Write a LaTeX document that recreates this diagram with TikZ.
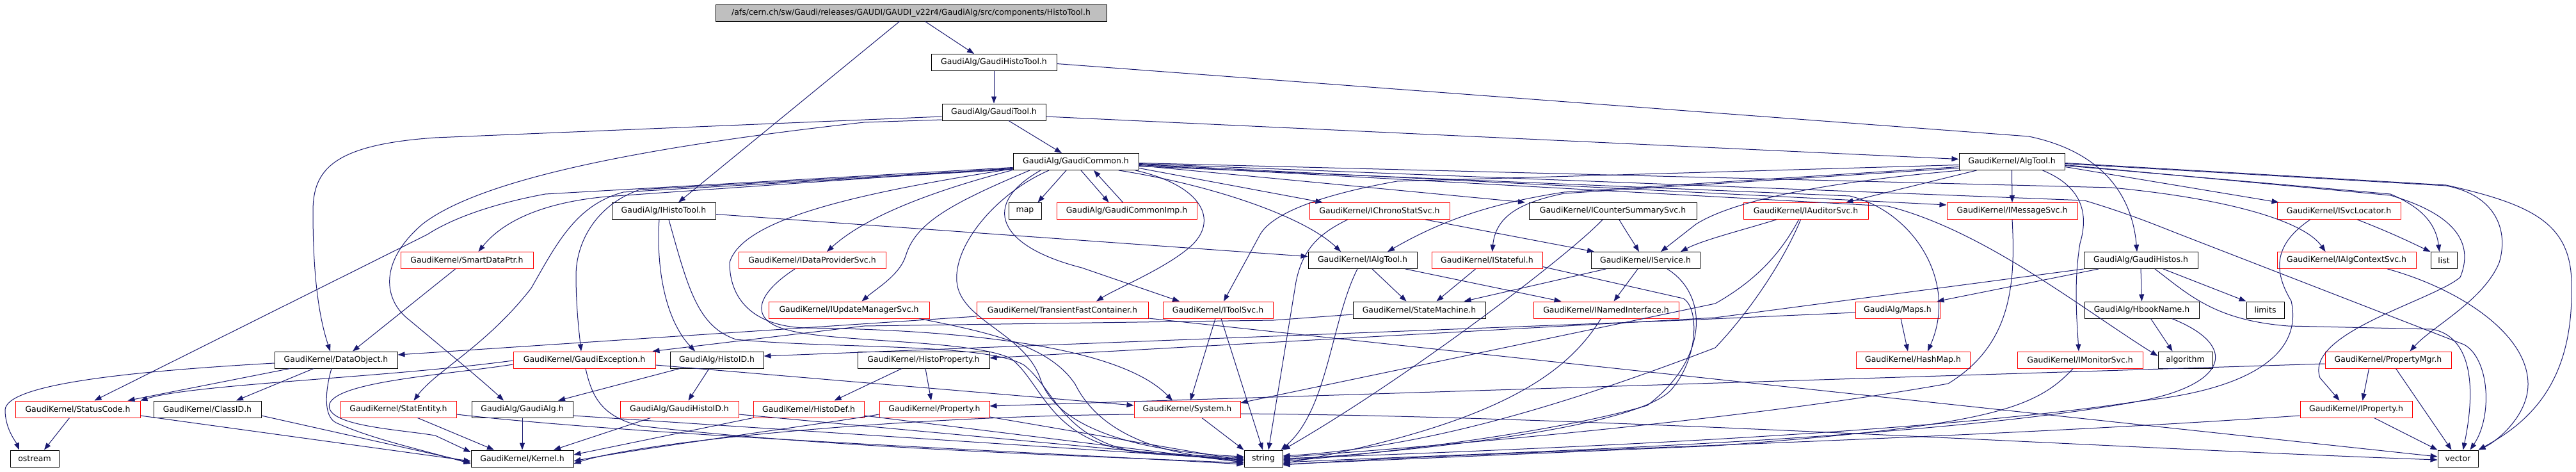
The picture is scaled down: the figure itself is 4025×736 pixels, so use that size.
\documentclass[tikz,border=0pt]{standalone}
\usepackage{fontspec}
\setmainfont{DejaVu Sans}
\usetikzlibrary{arrows.meta}
\definecolor{navy}{HTML}{191970}
\definecolor{rootgray}{HTML}{BFBFBF}
\begin{document}
\begin{tikzpicture}[x=1pt,y=-1pt,
  nd/.style={draw=black, line width=1pt, minimum height=26pt, inner sep=0pt, font=\fontsize{12.5}{14}\selectfont},
  rd/.style={nd, draw=red},
  e/.style={navy, line width=1pt, -{Triangle[length=11pt,width=8pt]}}]
\useasboundingbox[fill=white] (0,0) rectangle (4025,736);
% ---------------- nodes ----------------
\node[nd, fill=rootgray, minimum width=611pt] (root) at (1423.5,20) {/afs/cern.ch/sw/Gaudi/releases/GAUDI/GAUDI\_v22r4/GaudiAlg/src/components/HistoTool.h};
\node[nd, minimum width=196pt] (ght) at (1553,97.5) {GaudiAlg/GaudiHistoTool.h};
\node[nd, minimum width=162pt] (gt) at (1553,175) {GaudiAlg/GaudiTool.h};
\node[nd, minimum width=196pt] (gc) at (1681,252.5) {GaudiAlg/GaudiCommon.h};
\node[nd, minimum width=165pt] (at) at (3143.5,252.5) {GaudiKernel/AlgTool.h};
% row 4
\node[nd, minimum width=162pt] (iht) at (1037,329.5) {GaudiAlg/IHistoTool.h};
\node[nd, minimum width=51pt] (map) at (1601.5,329.5) {map};
\node[rd, minimum width=219pt] (gci) at (1760.5,329.5) {GaudiAlg/GaudiCommonImp.h};
\node[rd, minimum width=219pt] (ics) at (2155.5,329.5) {GaudiKernel/IChronoStatSvc.h};
\node[nd, minimum width=262pt] (icss) at (2520,329.5) {GaudiKernel/ICounterSummarySvc.h};
\node[rd, minimum width=195pt] (ias) at (2821.5,329.5) {GaudiKernel/IAuditorSvc.h};
\node[rd, minimum width=204pt] (ims) at (3144,329.5) {GaudiKernel/IMessageSvc.h};
\node[rd, minimum width=193pt] (isl) at (3654.5,329.5) {GaudiKernel/ISvcLocator.h};
% row 5
\node[rd, minimum width=207pt] (sdp) at (729.5,406.5) {GaudiKernel/SmartDataPtr.h};
\node[rd, minimum width=230pt] (idps) at (1269,406.5) {GaudiKernel/IDataProviderSvc.h};
\node[nd, minimum width=170pt] (iat) at (2129,406.5) {GaudiKernel/IAlgTool.h};
\node[rd, minimum width=173pt] (ist) at (2323.5,406.5) {GaudiKernel/IStateful.h};
\node[nd, minimum width=170pt] (isv) at (2571,406.5) {GaudiKernel/IService.h};
\node[nd, minimum width=178pt] (gh) at (3345,406.5) {GaudiAlg/GaudiHistos.h};
\node[rd, minimum width=217pt] (iacs) at (3666.5,406.5) {GaudiKernel/IAlgContextSvc.h};
\node[nd, minimum width=41pt] (list) at (3818.5,406.5) {list};
% row 6
\node[rd, minimum width=251pt] (iums) at (1326.5,484) {GaudiKernel/IUpdateManagerSvc.h};
\node[rd, minimum width=268pt] (tfc) at (1660,484) {GaudiKernel/TransientFastContainer.h};
\node[rd, minimum width=172pt] (itsv) at (1903,484) {GaudiKernel/IToolSvc.h};
\node[nd, minimum width=207pt] (sm) at (2217.5,484) {GaudiKernel/StateMachine.h};
\node[rd, minimum width=227pt] (ini) at (2509.5,484) {GaudiKernel/INamedInterface.h};
\node[rd, minimum width=132pt] (maps) at (2965,484) {GaudiAlg/Maps.h};
\node[nd, minimum width=179pt] (hbn) at (3346.5,484) {GaudiAlg/HbookName.h};
\node[nd, minimum width=59pt] (limits) at (3539.5,484) {limits};
% row 7
\node[nd, minimum width=192pt] (dobj) at (525,562) {GaudiKernel/DataObject.h};
\node[rd, minimum width=222pt] (gex) at (913,562) {GaudiKernel/GaudiException.h};
\node[nd, minimum width=146pt] (hid) at (1120,562) {GaudiAlg/HistoID.h};
\node[nd, minimum width=206pt] (hprop) at (1443,562) {GaudiKernel/HistoProperty.h};
\node[rd, minimum width=178pt] (hmap) at (2989,562) {GaudiKernel/HashMap.h};
\node[rd, minimum width=196pt] (imon) at (3250,562) {GaudiKernel/IMonitorSvc.h};
\node[nd, minimum width=85pt] (algo) at (3414.5,562) {algorithm};
\node[rd, minimum width=197pt] (pmgr) at (3731.5,562) {GaudiKernel/PropertyMgr.h};
% row 8
\node[rd, minimum width=195pt] (sc) at (121.5,639) {GaudiKernel/StatusCode.h};
\node[nd, minimum width=168pt] (cid) at (324,639) {GaudiKernel/ClassID.h};
\node[rd, minimum width=181pt] (sent) at (622.5,639) {GaudiKernel/StatEntity.h};
\node[nd, minimum width=158pt] (galg) at (816,639) {GaudiAlg/GaudiAlg.h};
\node[rd, minimum width=185pt] (ghid) at (1061.5,639) {GaudiAlg/GaudiHistoID.h};
\node[rd, minimum width=173pt] (hdef) at (1263.5,639) {GaudiKernel/HistoDef.h};
\node[rd, minimum width=172pt] (prop) at (1460,639) {GaudiKernel/Property.h};
\node[rd, minimum width=166pt] (sys) at (1855,639) {GaudiKernel/System.h};
\node[rd, minimum width=175pt] (iprop) at (3681.5,639) {GaudiKernel/IProperty.h};
% row 9
\node[nd, minimum width=76pt] (ostream) at (54,716) {ostream};
\node[nd, minimum width=160pt] (kern) at (816,716) {GaudiKernel/Kernel.h};
\node[nd, minimum width=60pt] (string) at (1974,716) {string};
\node[nd, minimum width=63pt] (vector) at (3840.5,716) {vector};
% ---------------- edges ----------------
\draw[e] ([xshift=22pt]root.south) -- ([xshift=-31pt]ght.north);
\draw[e] ([xshift=-18pt]root.south) -- ([xshift=23pt]iht.north);
\draw[e] (ght) -- (gt);
\draw[e] ([yshift=-2pt]ght.east) -- (3170,213) .. controls (3290,238) and (3332,310) .. ([xshift=-6pt]gh.north);
\draw[e] ([xshift=23pt]gt.south) -- ([xshift=-22pt]gc.north);
\draw[e] ([yshift=-7pt]gt.east) -- ([yshift=4pt]at.west);
\draw[e] ([yshift=-7pt]gt.west) -- (680,215) .. controls (520,226) and (489,265) .. (489,330) .. controls (489,440) and (500,500) .. ([xshift=-9pt]dobj.north);
\draw[e] ([yshift=-12pt]gt.west) -- (1350,191) .. controls (1000,230) and (750,280) .. (660,350) .. controls (590,410) and (600,470) .. (640,500) .. controls (700,550) and (760,600) .. ([xshift=-29pt]galg.north);
% GaudiCommon
\draw[e] ([xshift=8pt]gc.south) -- ([xshift=-28pt]gci.north);
\draw[e] ([xshift=-6pt]gci.north) -- ([xshift=28pt]gc.south);
\draw[e] ([xshift=-15pt]gc.south) -- ([xshift=20pt]map.north);
\draw[e] ([yshift=-10pt]gc.east) -- ([xshift=-89pt]ics.north);
\draw[e] ([yshift=-6pt]gc.east) -- ([xshift=-137pt]icss.north);
\draw[e] ([yshift=-4pt]gc.east) -- ([yshift=-4pt]ims.north west);
\draw[e] ([yshift=-2pt]gc.east) -- (3300,293) .. controls (3480,310) and (3600,345) .. ([xshift=-33pt]iacs.north);
\draw[e] ([yshift=-3pt]gc.east) -- (3257,313) .. controls (3330,335) and (3370,352) .. (3406,366) -- (3850,538) .. controls (3890,560) and (3895,650) .. ([xshift=19pt]vector.north);
\draw[e] ([yshift=-5pt]gc.east) -- (2950,322) .. controls (3100,360) and (3250,480) .. ([yshift=6pt]algo.west);
\draw[e] ([yshift=-7pt]gc.east) -- (2890,306) .. controls (2990,330) and (3060,440) .. ([xshift=23pt]hmap.north);
\draw[e] ([xshift=67pt]gc.south) .. controls (1900,290) and (2040,340) .. ([xshift=-34pt]iat.north);
\draw[e] ([xshift=-55pt]gc.south) .. controls (1530,320) and (1560,385) .. (1690,418) -- ([xshift=-60pt]itsv.north);
\draw[e] ([xshift=93pt]gc.south) .. controls (1880,290) and (1905,345) .. (1860,385) .. controls (1820,420) and (1745,450) .. ([xshift=53pt]tfc.north);
\draw[e] ([yshift=-12pt]gc.west) -- (974,300) .. controls (900,320) and (870,380) .. (830,450) .. controls (760,540) and (680,580) .. ([xshift=24pt]sent.north);
\draw[e] ([yshift=-10pt]gc.west) -- (948,307) .. controls (860,315) and (790,340) .. ([xshift=18pt]sdp.north);
\draw[e] ([yshift=-11pt]gc.west) -- (1000,296) .. controls (930,320) and (900,380) .. (900,430) .. controls (900,480) and (905,520) .. ([xshift=-5pt]gex.north);
\draw[e] ([yshift=-9pt]gc.west) -- (852,303) .. controls (760,320) and (700,345) .. (668,366) -- ([xshift=26pt]sc.north);
\draw[e] ([yshift=-13pt]gc.west) .. controls (1450,300) and (1350,340) .. ([xshift=23pt]idps.north);
\draw[e] ([yshift=-11pt]gc.west) .. controls (1350,300) and (1160,340) .. (1140,410) .. controls (1140,470) and (1180,510) .. (1260,512) .. controls (1500,515) and (1750,540) .. ([xshift=-23pt]sys.north);
\draw[e] ([xshift=-72pt]gc.south) .. controls (1480,320) and (1430,350) .. (1415,400) .. controls (1405,430) and (1370,450) .. ([xshift=20pt]iums.north);
\draw[e] ([xshift=-42pt]gc.south) .. controls (1560,300) and (1490,380) .. (1495,440) .. controls (1500,500) and (1600,520) .. (1625,590) .. controls (1650,670) and (1780,705) .. ([yshift=3pt]string.west);
% AlgTool
\draw[e] ([yshift=-5pt]at.west) -- (2183,283) .. controls (2075,302) and (1990,330) .. (1969,366) -- ([xshift=9pt]itsv.north);
\draw[e] ([yshift=-10pt]at.west) -- (2444,302) .. controls (2370,317) and (2337,340) .. ([xshift=8pt]ist.north);
\draw[e] ([yshift=-8pt]at.west) -- (2444,300) .. controls (2340,316) and (2260,340) .. ([xshift=39pt]iat.north);
\draw[e] ([xshift=-80pt]at.south) .. controls (2788,290) and (2690,325) .. (2650,350) -- ([xshift=24pt]isv.north);
\draw[e] ([xshift=-55pt]at.south) -- ([xshift=63pt]ias.north);
\draw[e] (at.south) -- (ims.north);
\draw[e] ([xshift=48pt]at.south) .. controls (3250,290) and (3265,330) .. (3250,380) .. controls (3240,440) and (3245,500) .. ([xshift=-2pt]imon.north);
\draw[e] ([yshift=-8pt]at.east) -- ([xshift=3pt]isl.north west);
\draw[e] ([yshift=-6pt]at.east) -- (3735,303) .. controls (3770,318) and (3805,340) .. ([xshift=-7pt]list.north);
\draw[e] ([yshift=-5pt]at.east) -- (3735,305) .. controls (3820,330) and (3870,370) .. (3844,433) .. controls (3800,470) and (3600,520) .. (3625,590) -- ([xshift=-26pt]iprop.north);
\draw[e] ([yshift=-3pt]at.east) -- (3822,290) .. controls (3900,305) and (3920,360) .. (3905,410) .. controls (3880,470) and (3800,510) .. ([xshift=34pt]pmgr.north);
\draw[e] ([yshift=-2pt]at.east) -- (3822,289) .. controls (3960,320) and (4020,350) .. (4018,450) .. controls (4020,600) and (3950,660) .. (vector.north east);
% row 4 sources
\draw[e] ([yshift=-5pt]iht.east) -- ([yshift=6pt]iat.west);
\draw[e] ([xshift=-7pt]iht.south) .. controls (1025,420) and (1040,500) .. ([xshift=-34pt]hid.north);
\draw[e] ([xshift=8pt]iht.south) .. controls (1075,450) and (1090,510) .. (1150,530) .. controls (1300,545) and (1540,535) .. (1600,570) .. controls (1650,610) and (1660,690) .. (1790,708) -- ([yshift=-1pt]string.west);
\draw[e] ([xshift=72pt]ics.south) -- ([xshift=-80pt]isv.north);
\draw[e] ([xshift=-50pt]ics.south) .. controls (2060,365) and (2035,390) .. (2025,440) -- ([xshift=8pt]string.north);
\draw[e] ([xshift=10pt]icss.south) .. controls (2540,360) and (2550,375) .. ([xshift=-10pt]isv.north);
\draw[e] ([xshift=-16pt]icss.south) .. controls (2450,400) and (2200,590) .. (string.north east);
\draw[e] ([xshift=-46pt]ias.south) .. controls (2720,360) and (2660,375) .. ([xshift=55pt]isv.north);
\draw[e] ([xshift=-11pt]ias.south) .. controls (2780,400) and (2740,440) .. (2680,474) -- ([yshift=10pt]sys.east);
\draw[e] ([xshift=-8pt]ias.south) .. controls (2790,400) and (2740,480) .. (2680,543) .. controls (2400,650) and (2200,700) .. ([yshift=4pt]string.east);
\draw[e] (ims.south) .. controls (3150,450) and (3140,540) .. (3044,599) .. controls (2700,660) and (2200,700) .. ([yshift=2pt]string.east);
\draw[e] ([xshift=29pt]isl.south) .. controls (3740,365) and (3770,380) .. (list.north west);
\draw[e] ([xshift=-45pt]isl.south) .. controls (3555,380) and (3550,420) .. (3580,470) .. controls (3600,560) and (3500,610) .. (3345,626) .. controls (3000,680) and (2300,705) .. (string.east);
% row 5 sources
\draw[e] ([xshift=-18pt]sdp.south) -- ([xshift=26pt]dobj.north);
\draw[e] ([xshift=-27pt]idps.south) .. controls (1180,460) and (1170,500) .. (1230,515) .. controls (1300,535) and (1520,530) .. (1580,560) .. controls (1630,600) and (1640,690) .. (1780,706) -- ([yshift=1pt]string.west);
\draw[e] ([xshift=-8pt]iat.south) .. controls (2080,500) and (2075,640) .. ([xshift=-3pt]string.north east);
\draw[e] ([xshift=15pt]iat.south) -- ([xshift=-20pt]sm.north);
\draw[e] ([xshift=67pt]iat.south) -- ([xshift=-70pt]ini.north);
\draw[e] ([xshift=-18pt]ist.south) -- ([xshift=27pt]sm.north);
\draw[e] ([yshift=-10pt]ist.east) -- (2630,466) .. controls (2655,480) and (2655,560) .. (2610,610) .. controls (2550,670) and (2200,705) .. ([yshift=-2pt]string.east);
\draw[e] ([xshift=-62pt]isv.south) -- ([xshift=70pt]sm.north);
\draw[e] ([xshift=-12pt]isv.south) -- ([xshift=12pt]ini.north);
\draw[e] ([xshift=34pt]isv.south) .. controls (2670,460) and (2670,560) .. (2574,633) .. controls (2450,670) and (2200,705) .. ([yshift=-4pt]string.east);
\draw[e] (gh.south) -- (hbn.north);
\draw[e] ([xshift=-66pt]gh.south) -- ([xshift=-5pt]maps.north east);
\draw[e] ([xshift=35pt]gh.south) -- (limits.north west);
\draw[e] ([xshift=22pt]gh.south) .. controls (3420,460) and (3460,500) .. (3575,509) -- (3800,514) .. controls (3860,525) and (3870,600) .. ([xshift=8pt]vector.north);
\draw[e] (gh.south west) -- (2680,496) -- ([yshift=3pt]hprop.east);
\draw[e] ([xshift=64pt]iacs.south) .. controls (3840,450) and (3950,520) .. (3950,600) .. controls (3950,650) and (3900,690) .. (vector.north east);
% row 6 sources
\draw[e] ([xshift=5pt]maps.south) -- ([xshift=-8pt]hmap.north);
\draw[e] ([yshift=-4pt]maps.west) -- (2630,500) -- ([yshift=6pt]hid.east);
\draw[e] ([xshift=14pt]hbn.south) -- ([xshift=-20pt]algo.north);
\draw[e] ([xshift=47pt]hbn.south) .. controls (3500,540) and (3480,600) .. (3345,626) .. controls (3000,690) and (2300,708) .. ([yshift=-6pt]string.east);
\draw[e] ([yshift=-7pt]sm.west) -- (1990,500) -- (1350,509) -- ([xshift=-5pt]gex.north east);
\draw[e] ([yshift=-10pt]tfc.west) -- ([yshift=8pt]dobj.east);
\draw[e] ([yshift=-13pt]tfc.east) -- ([yshift=3pt]vector.west);
\draw[e] ([xshift=-4pt]itsv.south) -- ([xshift=5pt]sys.north);
\draw[e] ([xshift=5pt]itsv.south) -- ([xshift=-1pt]string.north);
\draw[e] ([xshift=-8pt]ini.south) .. controls (2450,580) and (2350,660) .. ([yshift=-8pt]string.east);
\draw[e] ([xshift=110pt]iums.south) .. controls (1550,520) and (1640,540) .. (1680,600) .. controls (1720,680) and (1820,712) .. ([yshift=-2pt]string.west);
% row 7 sources
\draw[e] ([xshift=-34pt]hprop.south) -- ([xshift=40pt]hdef.north);
\draw[e] ([xshift=3pt]hprop.south) -- ([xshift=-5pt]prop.north);
\draw[e] ([xshift=-58pt]hid.south) -- ([xshift=56pt]galg.north);
\draw[e] ([xshift=-12pt]hid.south) -- ([xshift=14pt]ghid.north);
\draw[e] ([xshift=-72pt]dobj.south) -- ([xshift=78pt]sc.north);
\draw[e] ([xshift=-35pt]dobj.south) -- ([xshift=45pt]cid.north);
\draw[e] ([yshift=-5pt]dobj.west) .. controls (200,580) and (10,600) .. (8,640) .. controls (8,670) and (25,690) .. ([xshift=-24pt]ostream.north);
\draw[e] ([xshift=-7pt]dobj.south) .. controls (508,610) and (505,650) .. (525,660) .. controls (580,685) and (650,700) .. ([yshift=-8pt]kern.west);
\draw[e] ([yshift=-1pt]gex.west) .. controls (600,590) and (300,600) .. (sc.north east);
\draw[e] ([yshift=-7pt]gex.west) .. controls (700,585) and (530,595) .. (515,630) .. controls (505,665) and (620,670) .. (680,680) -- ([yshift=10pt]kern.west);
\draw[e] ([xshift=2pt]gex.south) .. controls (925,620) and (940,650) .. (1000,665) .. controls (1300,700) and (1700,712) .. ([yshift=-7pt]string.west);
\draw[e] ([yshift=-8pt]gex.east) -- ([yshift=6pt]sys.west);
\draw[e] ([yshift=-6pt]pmgr.west) -- ([yshift=5pt]prop.east);
\draw[e] ([xshift=-30pt]pmgr.south) -- ([xshift=10pt]iprop.north);
\draw[e] ([xshift=12pt]pmgr.south) -- ([xshift=-10pt]vector.north);
\draw[e] ([xshift=-11pt]imon.south) .. controls (3180,640) and (3100,665) .. (2680,696) -- ([yshift=-9pt]string.east);
% row 8 sources
\draw[e] ([xshift=-13pt]sc.south) -- ([xshift=15pt]ostream.north);
\draw[e] ([yshift=-10pt]sc.east) -- ([yshift=-4pt]kern.west);
\draw[e] ([yshift=-10pt]cid.east) -- ([yshift=-6pt]kern.west);
\draw[e] ([xshift=30pt]sent.south) -- ([xshift=-44pt]kern.north);
\draw[e] ([yshift=-8pt]sent.east) .. controls (1000,680) and (1600,705) .. ([yshift=-9pt]string.west);
\draw[e] (galg) -- (kern);
\draw[e] ([yshift=-10pt]galg.east) -- ([yshift=-2pt]string.west);
\draw[e] ([xshift=-45pt]ghid.south) -- ([xshift=49pt]kern.north);
\draw[e] ([yshift=-8pt]ghid.east) -- ([yshift=-4pt]string.west);
\draw[e] (hdef.south west) -- ([yshift=6pt]kern.east);
\draw[e] ([yshift=-10pt]hdef.east) -- ([yshift=-6pt]string.west);
\draw[e] ([yshift=-8pt]prop.west) .. controls (1300,660) and (1000,700) .. ([yshift=-4pt]kern.east);
\draw[e] ([yshift=-12pt]prop.east) -- ([yshift=-3pt]string.west);
\draw[e] ([xshift=23pt]sys.south) -- (string.north west);
\draw[e] ([yshift=-8pt]sys.west) .. controls (1400,650) and (1000,690) .. ([yshift=-8pt]kern.east);
\draw[e] ([yshift=-7pt]sys.east) .. controls (2500,650) and (3300,700) .. ([yshift=-2pt]vector.west);
\draw[e] ([yshift=-10pt]iprop.west) .. controls (3000,690) and (2300,705) .. ([yshift=-10pt]string.east);
\draw[e] ([xshift=28pt]iprop.south) -- (vector.north west);
\end{tikzpicture}
\end{document}
